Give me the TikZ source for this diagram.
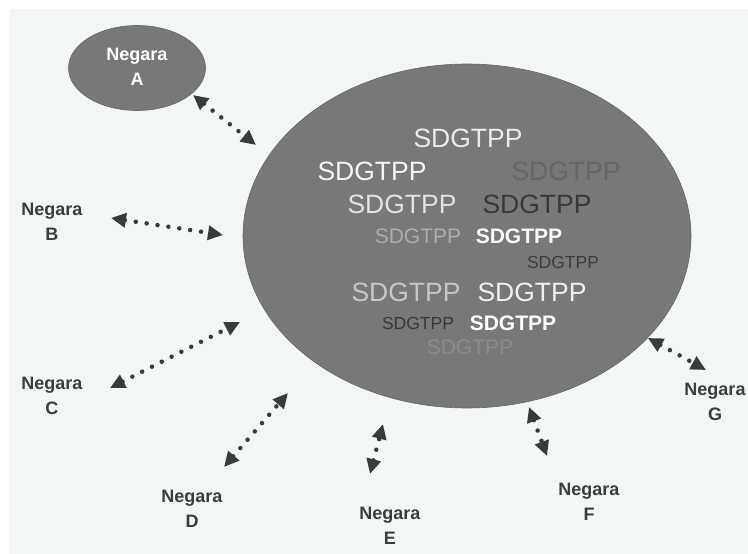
\documentclass[tikz,border=0pt]{standalone}
\usepackage{fontspec}
\setmainfont{Liberation Sans}
\usetikzlibrary{arrows.meta,shapes.geometric}
\definecolor{paper}{HTML}{F3F6F7}
\definecolor{blobc}{HTML}{787878}
\definecolor{arrowc}{HTML}{3A3A3A}
\definecolor{labc}{HTML}{3C3C3C}
\newcommand\fsz[1]{\fontsize{#1}{#1}\selectfont}
\begin{document}
\begin{tikzpicture}[x=1pt,y=-1pt,
  blob/.style={ellipse, fill=blobc, draw=blobc!85!black, line width=0.6pt, inner sep=0pt},
  neg/.style={align=center, text=labc, font=\fontsize{18}{25}\selectfont\bfseries, inner sep=0pt},
  link/.style={draw=arrowc, line width=4.5pt, line cap=round, dash pattern=on 0pt off 11pt,
    {Triangle[length=15pt 0 1,width=14pt 0 1]}-{Triangle[length=15pt 0 1,width=14pt 0 1]}},
  sd/.style={inner sep=0pt, font=\fsz{#1}},
  sdb/.style={inner sep=0pt, font=\fsz{#1}\bfseries}]
\useasboundingbox (0,0) rectangle (748,554);
\fill[white] (0,0) rectangle (748,554);
\fill[paper] (10,9) rectangle (748,554);
% main ellipse
\node[blob, minimum width=448pt, minimum height=344pt] (main) at (467,236) {};
% small ellipse A
\node[blob, minimum width=137pt, minimum height=85pt] (ea) at (137,68) {};
\node[neg, text=white] (na) at (137,67) {Negara\\A};
% labels
\node[neg] (nb) at (52,222) {Negara\\B};
\node[neg] (nc) at (52,396) {Negara\\C};
\node[neg] (nd) at (192,509) {Negara\\D};
\node[neg] (ne) at (390,526) {Negara\\E};
\node[neg] (nf) at (589,502) {Negara\\F};
\node[neg] (ng) at (715,402) {Negara\\G};
% texts in main ellipse
\node[sd=26.5, text=black!8] (s1) at (468,138) {SDGTPP};
\node[sd=26.5, text=black!4] (s2) at (372,171) {SDGTPP};
\node[sd=26.5, text=black!60] (s3) at (566,171) {SDGTPP};
\node[sd=26.5, text=black!11] (s4) at (402,204) {SDGTPP};
\node[sd=26.5, text=black!78] (s5) at (537,204) {SDGTPP};
\node[sd=21, text=black!32] (s6) at (418,236) {SDGTPP};
\node[sdb=21, text=black!3] (s7) at (519,236) {SDGTPP};
\node[sd=17.5, text=black!76] (s8) at (563,262) {SDGTPP};
\node[sd=26.5, text=black!22] (s9) at (406,292) {SDGTPP};
\node[sd=26.5, text=black!6] (s10) at (532,292) {SDGTPP};
\node[sd=17.5, text=black!78] (s11) at (418,323) {SDGTPP};
\node[sdb=21, text=white] (s12) at (513,323) {SDGTPP};
\node[sd=21, text=black!45] (s13) at (470,347) {SDGTPP};
% connector ends
\coordinate (a1) at (193,95);  \coordinate (a2) at (256,145);
\coordinate (b1) at (111,218); \coordinate (b2) at (223,235);
\coordinate (c1) at (110,388); \coordinate (c2) at (240,322);
\coordinate (d1) at (224,467); \coordinate (d2) at (288,393);
\coordinate (e1) at (370,474); \coordinate (e2) at (383,424);
\coordinate (f1) at (529,407); \coordinate (f2) at (547,456);
\coordinate (g1) at (648,338); \coordinate (g2) at (706,370);
\draw[link] (a1) -- (a2);
\draw[link] (b1) -- (b2);
\draw[link] (c1) -- (c2);
\draw[link] (d1) -- (d2);
\draw[link] (e1) -- (e2);
\draw[link] (f1) -- (f2);
\draw[link] (g1) -- (g2);
\end{tikzpicture}
\end{document}
